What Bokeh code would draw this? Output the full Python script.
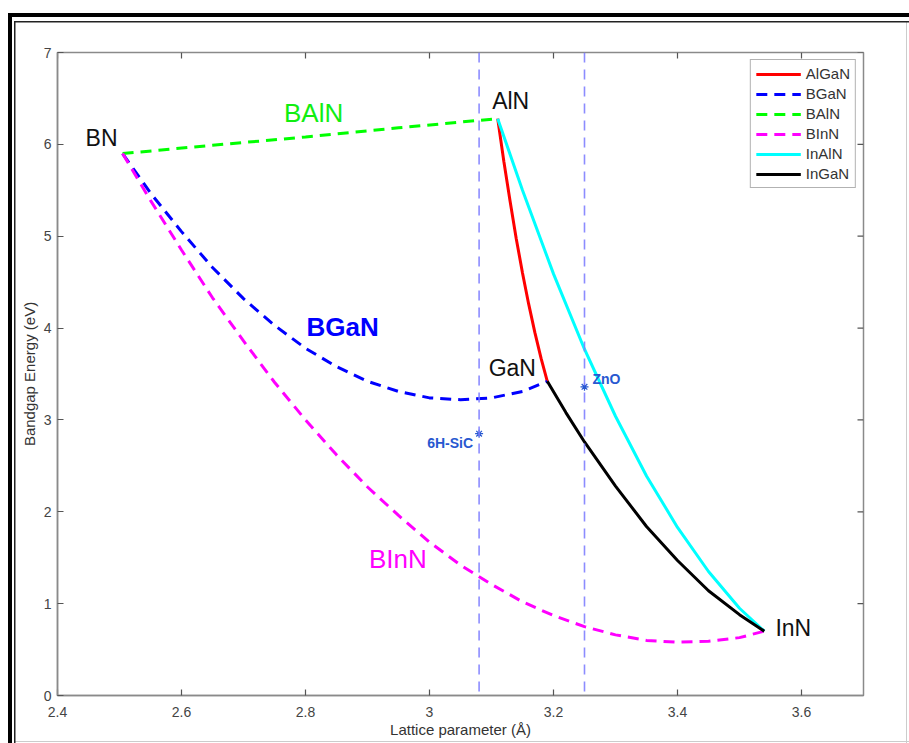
import math
from bokeh.plotting import figure
from bokeh.models import FixedTicker, Range1d, Span, ColumnDataSource
from bokeh.core.properties import value
from bokeh.embed import file_html
from bokeh.resources import INLINE

# Binary nitrides: lattice parameter (Å) and band gap (eV)
binary_names = ["BN", "AlN", "GaN", "InN"]
binary_a = [2.505, 3.11, 3.19, 3.54]
binary_eg = [5.90, 6.28, 3.42, 0.70]

# Ternary alloy curves
algan_a = [3.11, 3.12, 3.13, 3.14, 3.15, 3.16, 3.17, 3.18, 3.19]
algan_eg = [6.28, 5.81, 5.38, 4.97, 4.60, 4.26, 3.95, 3.67, 3.42]

bgan_a = [2.505, 2.55, 2.60, 2.65, 2.70, 2.75, 2.80, 2.85, 2.90, 2.95, 3.00, 3.05, 3.10, 3.15, 3.19]
bgan_eg = [5.90, 5.47, 5.05, 4.66, 4.32, 4.03, 3.78, 3.58, 3.42, 3.31, 3.24, 3.22, 3.24, 3.31, 3.42]

baln_a = [2.505, 2.65, 2.80, 2.95, 3.11]
baln_eg = [5.90, 5.99, 6.08, 6.18, 6.28]

binn_a = [2.505, 2.55, 2.60, 2.65, 2.70, 2.75, 2.80, 2.85, 2.90, 2.95, 3.00, 3.05, 3.10,
          3.15, 3.20, 3.25, 3.30, 3.35, 3.40, 3.45, 3.50, 3.54]
binn_eg = [5.90, 5.39, 4.85, 4.33, 3.86, 3.41, 3.00, 2.62, 2.27, 1.96, 1.67, 1.42, 1.21,
           1.02, 0.87, 0.75, 0.66, 0.60, 0.58, 0.59, 0.63, 0.70]

inaln_a = [3.11, 3.15, 3.20, 3.25, 3.30, 3.35, 3.40, 3.45, 3.50, 3.54]
inaln_eg = [6.28, 5.50, 4.59, 3.77, 3.04, 2.39, 1.83, 1.35, 0.95, 0.70]

ingan_a = [3.19, 3.22, 3.25, 3.30, 3.35, 3.40, 3.45, 3.50, 3.54]
ingan_eg = [3.42, 3.08, 2.76, 2.28, 1.84, 1.47, 1.14, 0.88, 0.70]

# Substrates
substrate_names = ["6H-SiC", "ZnO"]
substrate_a = [3.08, 3.25]
substrate_eg = [2.85, 3.36]

# Alloy name annotations
alloy_names = ["BAlN", "BGaN", "BInN"]
alloy_label_a = [2.813, 2.860, 2.949]
alloy_label_eg = [6.34, 4.01, 1.49]

x_ticks = [2.4, 2.6, 2.8, 3.0, 3.2, 3.4, 3.6]
y_ticks = [0, 1, 2, 3, 4, 5, 6, 7]
X_MIN, X_MAX = 2.4, 3.7
Y_MIN, Y_MAX = 0, 7

FONT = "Liberation Sans"
AXIS_GRAY = "#8a8a8a"
TICK_GRAY = "#555555"
TICK_LEN = 6

p = figure(width=909, height=743, output_backend="svg", toolbar_location=None,
           x_range=Range1d(X_MIN, X_MAX), y_range=Range1d(Y_MIN, Y_MAX),
           min_border_left=57, min_border_right=46, min_border_top=52, min_border_bottom=48,
           x_axis_label="Lattice parameter (Å)", y_axis_label="Bandgap Energy (eV)")
p.grid.visible = False
p.outline_line_color = AXIS_GRAY
p.outline_line_width = 1.5
p.background_fill_color = "white"
p.border_fill_alpha = 0

# double page frame (thick + thin rule on top/left, faint rule on right/bottom)
p.styles = {
    "background-color": "white",
    "background-image": ", ".join(["linear-gradient(#000,#000)"] * 2
                                  + ["linear-gradient(#222,#222)"] * 2
                                  + ["linear-gradient(#ccc,#ccc)"] * 2),
    "background-repeat": "no-repeat",
    "background-position": "8px 13px, 8px 13px, 14px 21px, 14px 21px, 906px 21px, 14px 741px",
    "background-size": "901px 4px, 4px 730px, 895px 1.5px, 1.5px 722px, 1px 722px, 895px 1px",
}

for ax in (p.xaxis[0], p.yaxis[0]):
    ax.axis_line_color = AXIS_GRAY
    ax.axis_line_width = 1.5
    ax.major_tick_line_color = TICK_GRAY
    ax.major_tick_line_width = 1.2
    ax.major_tick_in = TICK_LEN
    ax.major_tick_out = 0
    ax.minor_tick_line_color = None
    ax.major_label_text_font = FONT
    ax.major_label_text_font_size = "14px"
    ax.major_label_text_color = "#444444"
    ax.axis_label_text_font = FONT
    ax.axis_label_text_font_size = "15px"
    ax.axis_label_text_font_style = "normal"
    ax.axis_label_text_color = "#333333"
p.xaxis[0].ticker = FixedTicker(ticks=x_ticks)
p.yaxis[0].ticker = FixedTicker(ticks=y_ticks)
p.xaxis[0].major_label_standoff = 11
p.xaxis[0].axis_label_standoff = 1
p.yaxis[0].major_label_standoff = 6
p.yaxis[0].axis_label_standoff = 3

# inward tick marks along the top and right edges of the box
p.ray(x=x_ticks, y=[Y_MAX] * len(x_ticks), length=TICK_LEN, length_units="screen",
      angle=-math.pi / 2, line_color=TICK_GRAY, line_width=1.2)
p.ray(x=[X_MAX] * len(y_ticks), y=y_ticks, length=TICK_LEN, length_units="screen",
      angle=math.pi, line_color=TICK_GRAY, line_width=1.2)

# substrate reference lines
for a in substrate_a:
    p.add_layout(Span(location=a, dimension="height", line_color="#8080ff",
                      line_width=1.6, line_dash="10 7", line_alpha=0.9))

LW = 3
DASH = "11 7"
p.line(algan_a, algan_eg, color="#ff0000", line_width=LW, legend_label="AlGaN")
p.line(bgan_a, bgan_eg, color="#0000ff", line_width=LW, line_dash=DASH, legend_label="BGaN")
p.line(baln_a, baln_eg, color="#00ff00", line_width=LW, line_dash=DASH, legend_label="BAlN")
p.line(binn_a, binn_eg, color="#ff00ff", line_width=LW, line_dash=DASH, legend_label="BInN")
p.line(inaln_a, inaln_eg, color="#00ffff", line_width=LW, legend_label="InAlN")
p.line(ingan_a, ingan_eg, color="#000000", line_width=LW, legend_label="InGaN")

# binary compound names next to their points
bin_src = ColumnDataSource(dict(a=binary_a, eg=binary_eg, name=binary_names,
                                dx=[-21, 13, -35, 29], dy=[-16, -18, -13, -3]))
p.text(x="a", y="eg", text="name", x_offset="dx", y_offset="dy", source=bin_src,
       text_font=value(FONT), text_font_size="23px", text_color="#111111",
       text_align="center", text_baseline="middle")

# alloy names
alloy_colors = ["#11ee11", "#0000ff", "#ff00ff"]
alloy_styles = ["normal", "bold", "normal"]
alloy_src = ColumnDataSource(dict(a=alloy_label_a, eg=alloy_label_eg, name=alloy_names,
                                  c=alloy_colors, s=alloy_styles))
p.text(x="a", y="eg", text="name", source=alloy_src, text_color="c", text_font_style="s",
       text_font=value(FONT), text_font_size="26px", text_align="center",
       text_baseline="middle")

# substrates
SUB_BLUE = "#2858d0"
p.scatter(substrate_a, substrate_eg, marker="asterisk", size=8, line_color=SUB_BLUE,
          line_width=1.2)
sub_src = ColumnDataSource(dict(a=substrate_a, eg=substrate_eg, name=substrate_names,
                                dx=[-6, 8], dy=[9, -8], al=["right", "left"]))
p.text(x="a", y="eg", text="name", x_offset="dx", y_offset="dy", text_align="al",
       source=sub_src, text_font=value(FONT), text_font_size="14px",
       text_font_style="bold", text_color=SUB_BLUE, text_baseline="middle")

leg = p.legend[0]
leg.location = "top_right"
leg.margin = 7
leg.padding = 5
leg.spacing = 3
leg.glyph_width = 45
leg.glyph_height = 16
leg.label_height = 16
leg.label_standoff = 5
leg.label_text_font = FONT
leg.label_text_font_size = "15px"
leg.label_text_color = "#333333"
leg.border_line_color = "#666666"
leg.border_line_width = 1.2
leg.background_fill_alpha = 1

open("out.html", "w").write(file_html(p, INLINE))
